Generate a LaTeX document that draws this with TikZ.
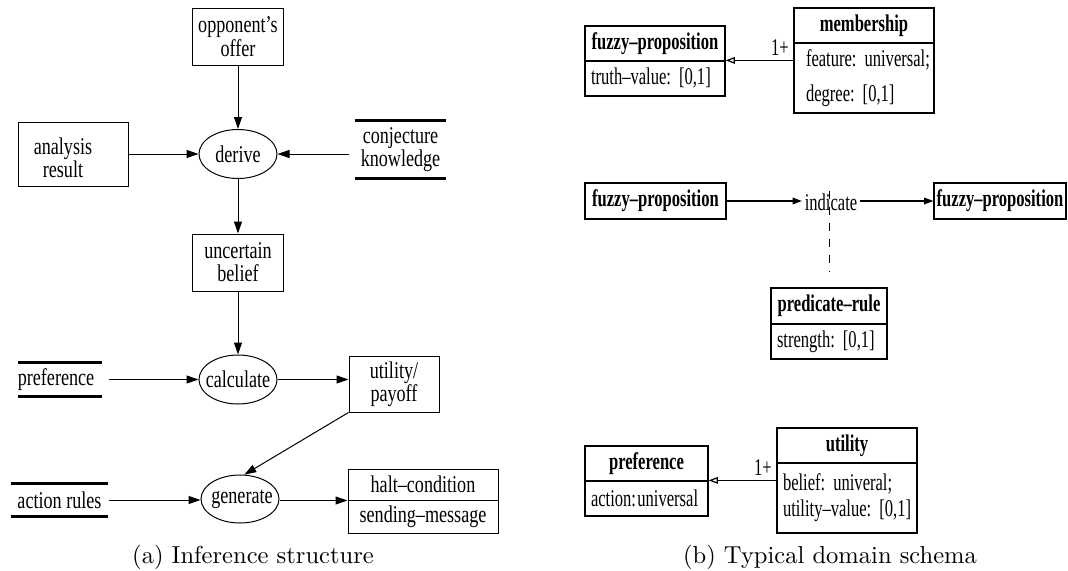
\documentclass[tikz,border=0pt]{standalone}
\usepackage{fontspec}
\newfontfamily\lfont[FakeStretch=0.755,Ligatures=TeX]{Liberation Serif}
\newfontfamily\rfont[FakeStretch=0.69,Ligatures=TeX]{Liberation Serif}
\newfontfamily\capfont{lmroman10-regular}[Extension=.otf]
\usetikzlibrary{shapes.geometric,arrows.meta}
\frenchspacing

% text that may not widen its node
\newcommand{\narrowtext}[1]{\makebox[0pt][c]{#1}}

\tikzset{
  lt/.style={font=\lfont\fontsize{18}{17.5}\selectfont},
  rt/.style={font=\rfont\fontsize{18}{19.5}\selectfont},
  box/.style={draw, line width=0.75pt, inner sep=0pt, align=center, lt},
  proc/.style={ellipse, draw, line width=0.75pt, inner sep=0pt,
    minimum width=58.5pt, minimum height=36.75pt, lt},
  store/.style={inner sep=0pt, align=center, lt},
  bar/.style={line width=2.25pt},
  flow/.style={-{Triangle[length=9pt,width=6pt]}, line width=0.75pt},
  rhead/.style={draw, line width=0.9pt, inner sep=0pt, minimum height=26.25pt,
    font=\rfont\bfseries\fontsize{18}{19.5}\selectfont},
  rbody/.style={draw, line width=0.9pt, inner xsep=4.5pt, inner ysep=0pt,
    align=left, rt},
  rflow/.style={-{Triangle[length=7pt,width=5pt]}, line width=0.9pt},
  isa/.style={-{Triangle[open,length=7pt,width=5pt]}, line width=0.9pt},
  link/.style={line width=0.75pt, dash pattern=on 6pt off 6pt},
  caption/.style={font=\capfont\fontsize{18.4}{22}\selectfont}
}

\begin{document}
\begin{tikzpicture}[x=0.75pt,y=-0.75pt]
\useasboundingbox (0,0) rectangle (1068,571);

% ---------- (a) inference structure ----------
\node[box, minimum width=68.25pt, minimum height=42.75pt] (offer) at (238,36.5) {opponent’s\\offer};
\node[box, minimum width=82.5pt, minimum height=48pt,
      label={[lt, align=center, xshift=-7.5pt, yshift=-3pt]center:analysis\\result}] (anal) at (73,154) {};
\node[proc] (derive) at (238,154) {\narrowtext{derive}};
\node[store, minimum width=68.25pt, minimum height=42.75pt] (conj) at (400.5,149.5) {conjecture\\knowledge};
\node[box, minimum width=68.25pt, minimum height=42.75pt] (belief) at (238,262.5) {uncertain\\belief};
\node[proc] (calc) at (238,379.5) {\narrowtext{calculate}};
\node[store, minimum width=63pt, minimum height=24.75pt] (pref) at (60,379.5) {\hspace*{-6pt}preference};
\node[box, minimum width=67.5pt, minimum height=42pt] (util) at (394,384) {utility/\\payoff};
\node[proc, minimum height=36pt] (gen) at (240,499) {\narrowtext{\hspace*{3pt}generate}};
\node[store, minimum width=72.75pt, minimum height=24.75pt] (rules) at (59.5,500) {action rules};
\node[box, minimum width=112.5pt, minimum height=23.25pt] (halt) at (423,484.5) {halt–condition};
\node[box, minimum width=112.5pt, minimum height=24.75pt] (send) at (423,516.5) {sending–message};

% data stores: bars above and below
\foreach \s in {conj,pref,rules} {
  \draw[bar] (\s.north west) -- (\s.north east);
  \draw[bar] (\s.south west) -- (\s.south east);
}

\draw[flow] (offer) -- (derive);
\draw[flow] (anal) -- (derive);
\draw[flow, shorten <=4.5pt] (conj.west |- derive) -- (derive.east);
\draw[flow] (derive) -- (belief);
\draw[flow] (belief) -- (calc);
\draw[flow, shorten <=5.25pt] (pref.east) -- (calc.west);
\draw[flow] (calc.east) -- (util.west |- calc.east);
\draw[flow] (util.south west) -- (gen.80);
\draw[flow, shorten <=0.75pt] (rules.east) -- (gen.west |- rules.east);
\draw[flow] (gen.east |- halt.south west) -- (halt.south west);

\node[caption] (capa) at (253,557) {(a) Inference structure};

% ---------- (b) domain schema ----------
\node[rhead, minimum width=105pt] (fpA) at (655,43.5) {fuzzy–proposition};
\node[rbody, text width=96pt, minimum height=26.25pt] (fpAb) at (655,78.5) {\mbox{truth–value: [0,1]}};
\node[rhead, minimum width=105pt] (mem) at (864,25.5) {membership};
\node[rbody, inner xsep=9pt, text width=87pt, minimum height=52.5pt,
      font=\rfont\fontsize{18}{26.25}\selectfont] (memb) at (864,78)
      {\mbox{feature: universal;}\\\mbox{degree: [0,1]}};
\draw[isa] (memb.west |- fpAb.north east) -- node[above, pos=0.2, rt] (m1) {1+} (fpAb.north east);

\node[rhead, minimum width=105.75pt, minimum height=27pt] (fpB) at (655.5,201) {fuzzy–proposition};
\node[rt, inner sep=2pt] (ind) at (831,202) {indicate};
\node[rhead, minimum width=99pt, minimum height=27pt] (fpC) at (1000,201) {fuzzy–proposition};
\draw[rflow] (fpB.east) -- (ind.west |- fpB.east);
\draw[rflow] (ind.east |- fpC.west) -- (fpC.west);

\node[rhead, minimum width=87pt, minimum height=27pt] (pr) at (829,306) {predicate–rule};
\node[rbody, text width=78pt, minimum height=26.25pt] (prb) at (829,341.5) {\mbox{strength: [0,1]}};
\draw[link, shorten >=11.25pt] (pr.north |- ind.north) -- (pr.north);

\node[rhead, minimum width=92.25pt] (prf) at (646.5,463.5) {preference};
\node[rbody, text width=83.25pt, minimum height=26.25pt] (prfb) at (646.5,498.5) {\mbox{action:\hspace{1pt}universal}};
\node[rhead, minimum width=105pt] (ut) at (847,445.5) {utility};
\node[rbody, text width=96pt, minimum height=52.5pt] (utb) at (847,498)
      {\mbox{belief: univeral;}\\\mbox{utility–value: [0,1]}};
\draw[isa] (utb.west |- prfb.north east) -- node[above, pos=0.2, rt] (u1) {1+} (prfb.north east);

\node[caption] (capb) at (830,557) {(b) Typical domain schema};
\end{tikzpicture}
\end{document}
